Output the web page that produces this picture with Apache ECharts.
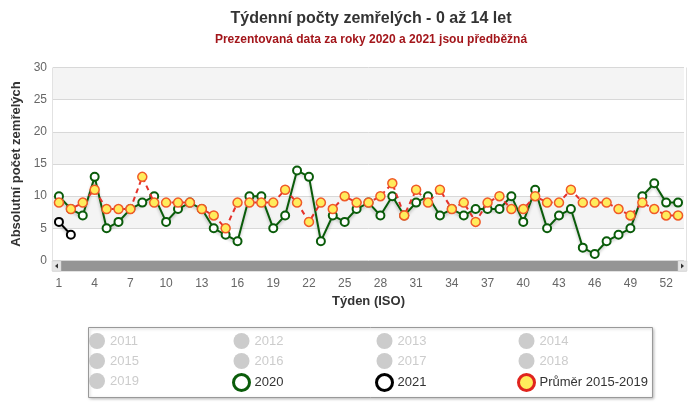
<!DOCTYPE html>
<html>
<head>
<meta charset="utf-8">
<script src="https://cdn.jsdelivr.net/npm/echarts@6/dist/echarts.min.js"></script>
<style>
html,body{margin:0;padding:0;background:#fff;}
#chart{width:700px;height:406px;}
</style>
</head>
<body>
<div id="chart"></div>
<script>
const weeks = ['1','2','3','4','5','6','7','8','9','10','11','12','13','14','15','16','17','18','19','20','21','22','23','24','25','26','27','28','29','30','31','32','33','34','35','36','37','38','39','40','41','42','43','44','45','46','47','48','49','50','51','52','53'];
const yTicks = [0, 5, 10, 15, 20, 25, 30];
const hiddenYears = ['2011','2012','2013','2014','2015','2016','2017','2018','2019'];
const data2020 = [10,8,7,13,5,6,8,9,10,6, 8,9,8,5,4,3,10,10,5,7, 14,13,3,7,6,8,9,7,10,7, 9,10,7,8,7,8,8,8,10,6, 11,5,7,8,2,1,3,4,5,10, 12,9,9];
const data2021 = [6,4];
const dataAvg = [9,8,9,11,8,8,8,13,9,9, 9,9,8,7,5,9,9,9,9,11, 9,6,9,8,10,9,9,10,12,7, 11,9,11,8,9,6,9,10,8,8, 10,9,9,11,9,9,9,8,7,9, 8,7,7];
const avgName = 'Průměr 2015-2019';

const GREEN = '#0a5c0a';
const RED = '#e5322b';
const YELLOW = '#ffec5c';
const FONT = 'Liberation Sans, Arial, sans-serif';

const chart = echarts.init(document.getElementById('chart'));

const series = [];
hiddenYears.forEach(y => series.push({ name: y, type: 'line', data: [], itemStyle: { color: '#ccc' } }));
series.push({
  name: '2020', type: 'line', data: data2020, symbol: 'circle', symbolSize: 8, showSymbol: true, showAllSymbol: true,
  lineStyle: { color: GREEN, width: 2, shadowColor: 'rgba(0,0,0,0.25)', shadowBlur: 3, shadowOffsetY: 2 },
  itemStyle: { color: '#fff', borderColor: GREEN, borderWidth: 2 },
  emphasis: { disabled: true }, z: 3
});
series.push({
  name: '2021', type: 'line', data: data2021, symbol: 'circle', symbolSize: 8, showSymbol: true, showAllSymbol: true,
  lineStyle: { color: '#000', width: 2, shadowColor: 'rgba(0,0,0,0.25)', shadowBlur: 3, shadowOffsetY: 2 },
  itemStyle: { color: '#fff', borderColor: '#000', borderWidth: 2 },
  emphasis: { disabled: true }, z: 3
});
series.push({
  name: avgName, type: 'line', data: dataAvg, symbol: 'circle', symbolSize: 9, showSymbol: true, showAllSymbol: true,
  lineStyle: { color: RED, width: 2, type: [5, 4] },
  itemStyle: { color: YELLOW, borderColor: '#f05a28', borderWidth: 1.5 },
  emphasis: { disabled: true }, z: 4
});

const legendItem = {
  '2020': { name: '2020', itemStyle: { color: '#fff', borderColor: GREEN, borderWidth: 3 } },
  '2021': { name: '2021', itemStyle: { color: '#fff', borderColor: '#000', borderWidth: 3 } }
};
legendItem[avgName] = { name: avgName, itemStyle: { color: YELLOW, borderColor: '#e0241d', borderWidth: 3 } };
const legendColumns = [
  ['2011', '2015', '2019'],
  ['2012', '2016', '2020'],
  ['2013', '2017', '2021'],
  ['2014', '2018', avgName]
];
const columnLeft = [89, 232, 375, 517];

const legends = legendColumns.map((col, i) => {
  const sel = {};
  col.forEach(n => { if (hiddenYears.indexOf(n) >= 0) sel[n] = false; });
  return {
    data: col.map(n => legendItem[n] || { name: n }),
    selected: sel, selectedMode: false,
    left: columnLeft[i], top: 333, orient: 'vertical',
    padding: 0, itemGap: 4, itemWidth: 16, itemHeight: 16, icon: 'circle',
    inactiveColor: '#ccc', inactiveBorderColor: '#ccc',
    textStyle: { fontFamily: FONT, fontSize: 13, color: '#333' }
  };
});

chart.setOption({
  animation: false,
  textStyle: { fontFamily: FONT },
  title: {
    text: 'Týdenní počty zemřelých - 0 až 14 let',
    subtext: 'Prezentovaná data za roky 2020 a 2021 jsou předběžná',
    left: 366, top: 6, textAlign: 'center', itemGap: 7,
    textStyle: { fontFamily: FONT, fontSize: 16, fontWeight: 'bold', color: '#333' },
    subtextStyle: { fontFamily: FONT, fontSize: 12, fontWeight: 'bold', color: '#a3161b' }
  },
  legend: legends,
  grid: { left: 53, right: 16, top: 67.5, bottom: 145.5 },
  xAxis: {
    type: 'category', data: weeks, boundaryGap: true,
    name: 'Týden (ISO)', nameLocation: 'middle', nameGap: 34,
    nameTextStyle: { fontFamily: FONT, fontSize: 13, fontWeight: 'bold', color: '#333' },
    axisLine: { show: false }, axisTick: { show: false },
    axisLabel: { interval: 2, margin: 17, color: '#666', fontSize: 12, fontFamily: FONT },
    splitLine: { show: false }
  },
  yAxis: {
    type: 'value', min: yTicks[0], max: yTicks[yTicks.length - 1], interval: 5,
    name: 'Absolutní počet zemřelých', nameLocation: 'middle', nameGap: 29,
    nameTextStyle: { fontFamily: FONT, fontSize: 13, fontWeight: 'bold', color: '#333' },
    axisLine: { show: false }, axisTick: { show: false },
    axisLabel: { margin: 6, color: '#666', fontSize: 12, fontFamily: FONT },
    splitLine: { show: true, lineStyle: { color: '#d8d8d8', width: 1 } },
    splitArea: { show: true, areaStyle: { color: ['#ffffff', '#f4f4f4'] } }
  },
  graphic: [
    { type: 'rect', shape: { x: 88.5, y: 327.5, width: 564, height: 70 }, style: { fill: '#fff', stroke: '#999', lineWidth: 1, shadowColor: 'rgba(0,0,0,0.25)', shadowBlur: 3, shadowOffsetX: 1, shadowOffsetY: 1 }, z: -10, silent: true },
    { type: 'rect', shape: { x: 52.5, y: 61.5, width: 634, height: 210 }, style: { fill: null, stroke: '#e2e2e2', lineWidth: 1 }, z: -1, silent: true },
    { type: 'rect', shape: { x: 52, y: 61, width: 635, height: 6.5 }, style: { fill: '#fff' }, z: -1, silent: true },
    { type: 'rect', shape: { x: 52, y: 261, width: 635, height: 10 }, style: { fill: '#959595' }, z: 100, silent: true },
    { type: 'rect', shape: { x: 52, y: 261, width: 9, height: 10 }, style: { fill: '#e6e6e6', stroke: '#cccccc', lineWidth: 0.5 }, z: 101, silent: true },
    { type: 'polygon', shape: { points: [[58, 263.5], [58, 268.5], [55, 266]] }, style: { fill: '#333' }, z: 102, silent: true },
    { type: 'rect', shape: { x: 678, y: 261, width: 9, height: 10 }, style: { fill: '#e6e6e6', stroke: '#cccccc', lineWidth: 0.5 }, z: 101, silent: true },
    { type: 'polygon', shape: { points: [[681, 263.5], [681, 268.5], [684, 266]] }, style: { fill: '#333' }, z: 102, silent: true }
  ],
  series: series
});
</script>
</body>
</html>
